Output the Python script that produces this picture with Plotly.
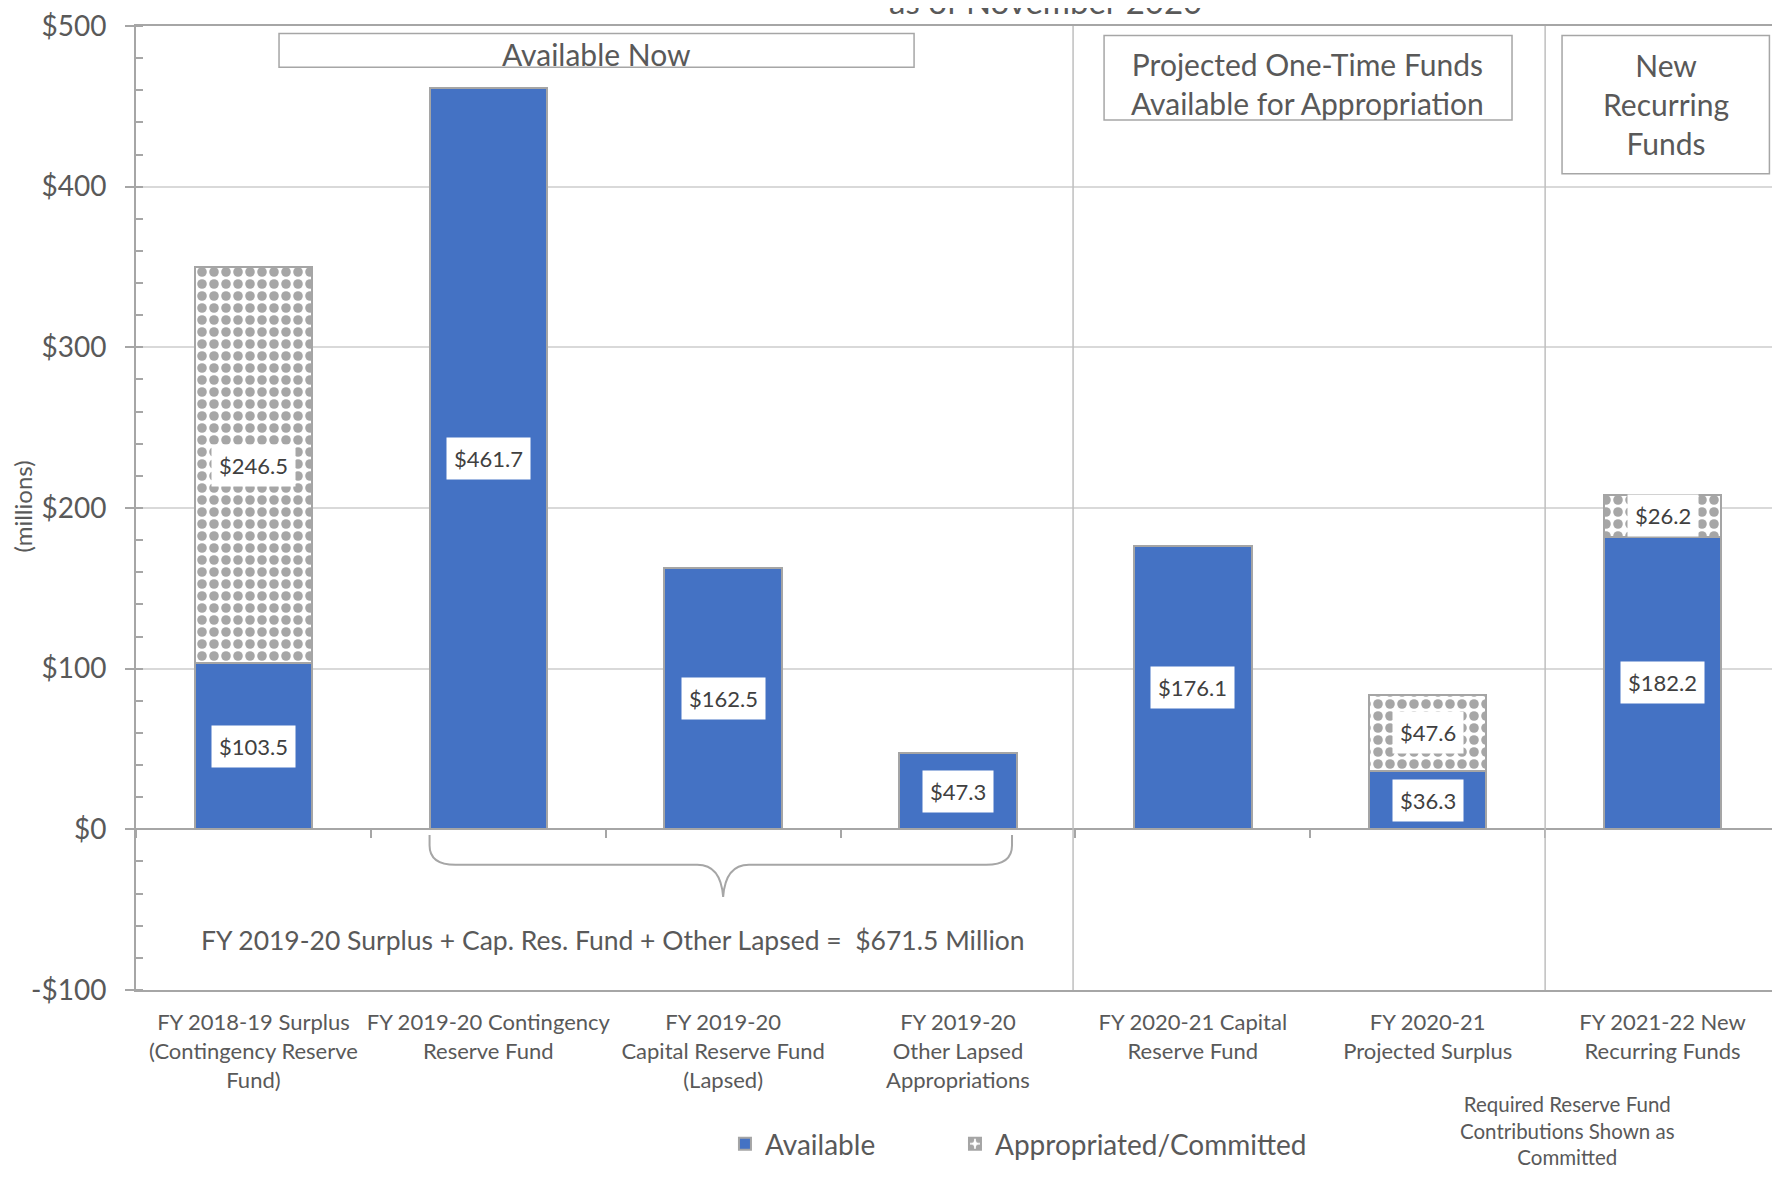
import plotly.graph_objects as go

categories = [
    "FY 2018-19 Surplus<br>(Contingency Reserve<br>Fund)",
    "FY 2019-20 Contingency<br>Reserve Fund",
    "FY 2019-20<br>Capital Reserve Fund<br>(Lapsed)",
    "FY 2019-20<br>Other Lapsed<br>Appropriations",
    "FY 2020-21 Capital<br>Reserve Fund",
    "FY 2020-21<br>Projected Surplus",
    "FY 2021-22 New<br>Recurring Funds",
]
available = [103.5, 461.7, 162.5, 47.3, 176.1, 36.3, 182.2]
committed = [246.5, None, None, None, None, 47.6, 26.2]

y_tickvals = [-100, 0, 100, 200, 300, 400, 500]
y_ticktext = ["-$100", "$0", "$100", "$200", "$300", "$400", "$500"]

FONT = "Lato"
GRAY_TXT = "#595959"
LINE = "#a6a6a6"
BLUE = "#4472C4"

fig = go.Figure()
fig.add_trace(go.Bar(
    name="Available", x=categories, y=available, width=0.5, legend="legend",
    marker=dict(color=BLUE, line=dict(color="#a5a5a5", width=2)),
))
fig.add_trace(go.Bar(
    name="Appropriated/Committed", x=categories, y=committed, width=0.5,
    legend="legend2",
    marker=dict(color="white", line=dict(color="#a5a5a5", width=2),
                pattern=dict(shape=".", fgcolor="#a6a6a6", bgcolor="white",
                             size=12, solidity=0.5, fillmode="replace")),
))
# helper invisible trace carrying the boundary tick marks on the y = 0 axis
fig.add_trace(go.Scatter(
    x=categories, y=available, xaxis="x2", mode="markers",
    marker=dict(opacity=0), showlegend=False, hoverinfo="skip",
))

# data labels
for i, c in enumerate(categories):
    a = available[i]
    fig.add_annotation(x=c, y=a / 2, text=f"${a:.1f}", showarrow=False,
                       bgcolor="white", borderpad=7,
                       font=dict(family=FONT, size=22, color="#404040"))
    if committed[i] is not None:
        v = committed[i]
        fig.add_annotation(x=c, y=a + v / 2, text=f"${v:.1f}", showarrow=False,
                           bgcolor="white", borderpad=7,
                           font=dict(family=FONT, size=22, color="#404040"))

# section separators
for xs in (3.49, 5.5):
    fig.add_shape(type="line", xref="x", yref="paper", x0=xs, x1=xs, y0=0, y1=1,
                  line=dict(color="#bfbfbf", width=1.5))

# header boxes
boxes = [
    (0.109, 2.813, 474.3, 495.4, "Available Now", 1.461, 482.4),
    (3.622, 5.359, 441.5, 494.1, "Projected One-Time Funds<br>Available for Appropriation", 4.49, 464.1),
    (5.572, 6.455, 408.0, 494.1, "New<br>Recurring<br>Funds", 6.015, 451.7),
]
for x0, x1, y0, y1, txt, tx, ty in boxes:
    fig.add_shape(type="rect", xref="x", yref="y", x0=x0, x1=x1, y0=y0, y1=y1,
                  line=dict(color=LINE, width=1.5), fillcolor="white")
    fig.add_annotation(x=tx, y=ty, xref="x", yref="y", text=txt, showarrow=False,
                       xanchor="center", yanchor="middle",
                       font=dict(family=FONT, size=30, color=GRAY_TXT))

# curly brace under bars 2-4
brace = ("M 0.75,-3.5 L 0.75,-10 Q 0.75,-22 0.86,-22 L 1.89,-22 "
         "Q 1.99,-22 2,-42 Q 2.01,-22 2.11,-22 L 3.12,-22 "
         "Q 3.23,-22 3.23,-10 L 3.23,-3.5")
fig.add_shape(type="path", xref="x", yref="y", path=brace,
              line=dict(color=LINE, width=2))

fig.add_annotation(x=1.531, y=-69, xref="x", yref="y",
                   text="FY 2019-20 Surplus + Cap. Res. Fund + Other Lapsed =  $671.5 Million",
                   showarrow=False, xanchor="center", yanchor="middle",
                   font=dict(family=FONT, size=26.5, color=GRAY_TXT))

# title fragment (top cut off, as in the source)
fig.add_annotation(x=0.5562, y=1.0255, xref="paper", yref="paper",
                   text="as of November 2020", showarrow=False,
                   xanchor="center", yanchor="middle",
                   font=dict(family=FONT, size=33, color=GRAY_TXT))

# y-axis title
fig.add_annotation(x=-0.0691, y=0.5015, xref="paper", yref="paper",
                   text="(millions)", textangle=-90, showarrow=False,
                   xanchor="center", yanchor="middle",
                   font=dict(family=FONT, size=24, color=GRAY_TXT))

# note below last categories
fig.add_annotation(x=0.8747, y=-0.1455, xref="paper", yref="paper",
                   text="Required Reserve Fund<br>Contributions Shown as<br>Committed",
                   showarrow=False, xanchor="center", yanchor="middle",
                   font=dict(family=FONT, size=20.5, color=GRAY_TXT))

legend_common = dict(orientation="h", y=-0.16, xanchor="left", yanchor="middle",
                     font=dict(family=FONT, size=28, color=GRAY_TXT),
                     bgcolor="rgba(0,0,0,0)")

fig.update_layout(
    width=1764, height=1161,
    margin=dict(l=128, r=0, t=15, b=177),
    barmode="stack",
    paper_bgcolor="white", plot_bgcolor="white",
    font=dict(family=FONT, color=GRAY_TXT),
    showlegend=True,
    legend=dict(x=0.36, **legend_common),
    legend2=dict(x=0.5006, **legend_common),
    xaxis=dict(type="category", categoryorder="array", categoryarray=categories,
               range=[-0.5, 6.466], showline=True, mirror=True, linecolor=LINE,
               linewidth=2, ticks="", showgrid=False, zeroline=False,
               tickfont=dict(family=FONT, size=22, color=GRAY_TXT),
               ticklabelstandoff=12),
    xaxis2=dict(overlaying="x", anchor="free", position=1/6, side="bottom",
                type="category", categoryorder="array", categoryarray=categories,
                range=[-0.5, 6.466], tickson="boundaries", ticks="outside",
                ticklen=8, tickcolor=LINE, tickwidth=1.5, showticklabels=False,
                showgrid=False, showline=False, zeroline=False),
    yaxis=dict(range=[-100, 500], tickvals=y_tickvals, ticktext=y_ticktext,
               showline=True, linecolor=LINE, linewidth=2,
               ticks="outside", ticklen=9, tickcolor=LINE, tickwidth=1.5,
               showgrid=True, gridcolor="#d9d9d9", gridwidth=1.5,
               zeroline=True, zerolinecolor=LINE, zerolinewidth=2,
               minor=dict(dtick=20, ticks="inside", ticklen=7, tickcolor=LINE,
                          tickwidth=1.5, showgrid=False),
               tickfont=dict(family=FONT, size=28, color=GRAY_TXT),
               ticklabelstandoff=13, ticklabeloverflow="allow"),
)

fig.write_html("out.html")
